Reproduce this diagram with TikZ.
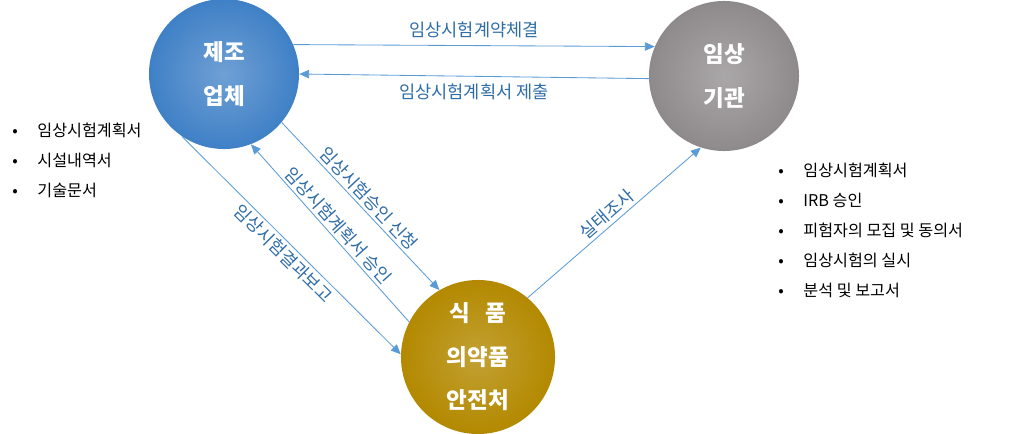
\documentclass[tikz,border=0pt]{standalone}
\usepackage{fontspec}
\setmainfont{Noto Sans CJK KR}
\usepackage{tikz}
\usetikzlibrary{positioning, arrows.meta}
\definecolor{mfblue}{HTML}{3F80C6}
\definecolor{clgray}{HTML}{8E8A8B}
\definecolor{kfgold}{HTML}{B38900}
\definecolor{linkblue}{HTML}{5B9BD5}
\definecolor{labelblue}{HTML}{2F6DA8}
\tikzset{
  party/.style={circle, minimum size=3.75cm, inner sep=0pt, text=white, align=center, font=\fontsize{16}{31}\selectfont\bfseries},
  link/.style={-{Triangle[length=7pt,width=6pt]}, draw=linkblue, line width=0.6pt},
  linklabel/.style={text=labelblue, font=\fontsize{12.5}{14}\selectfont, inner sep=2pt},
  item/.style={font=\fontsize{11.5}{13}\selectfont, anchor=west, inner sep=0pt}
}
\begin{document}
\begin{tikzpicture}[x=0.025cm, y=-0.025cm]
    \useasboundingbox (0,0) rectangle (1013,434);
    % Parties
    \node[party, shade, inner color=mfblue!75, outer color=mfblue] (mf) at (224,74) {제조\\업체};
    \node[party, shade, inner color=clgray!75, outer color=clgray] (cl) at (724,76) {임상\\기관};
    \node[party, minimum size=3.85cm, shade, inner color=kfgold!80, outer color=kfgold] (kf) at (478,357) {식 \ \ 품\\의약품\\안전처};
    % Connectors between parties
    \draw[link] (mf.23) -- node[linklabel, above=3pt]{임상시험계약체결} (cl.157);
    \draw[link] (cl.182) -- node[linklabel, below=3pt]{임상시험계획서 제출} (mf.0);
    \draw[link] (mf.-40) -- node[linklabel, sloped, above]{임상시험승인 신청} (kf.120);
    \draw[link] (kf.153) -- node[linklabel, sloped, above]{임상시험계획서 승인} (mf.-69);
    \draw[link] (mf.-124) -- node[linklabel, sloped, below]{임상시험결과보고} (kf.178);
    \draw[link] (kf.50) -- node[linklabel, sloped, above]{실태조사} (cl.-108);
    % Document lists
    \foreach \t [count=\i] in {임상시험계획서, 시설내역서, 기술문서}
      \node[item] (ml\i) at (12,130+30*\i-30) {•\hspace{14pt}\t};
    \foreach \t [count=\i] in {임상시험계획서, IRB 승인, 피험자의 모집 및 동의서, 임상시험의 실시, 분석 및 보고서}
      \node[item] (cr\i) at (778,170+30*\i-30) {•\hspace{14pt}\t};
\end{tikzpicture}
\end{document}
